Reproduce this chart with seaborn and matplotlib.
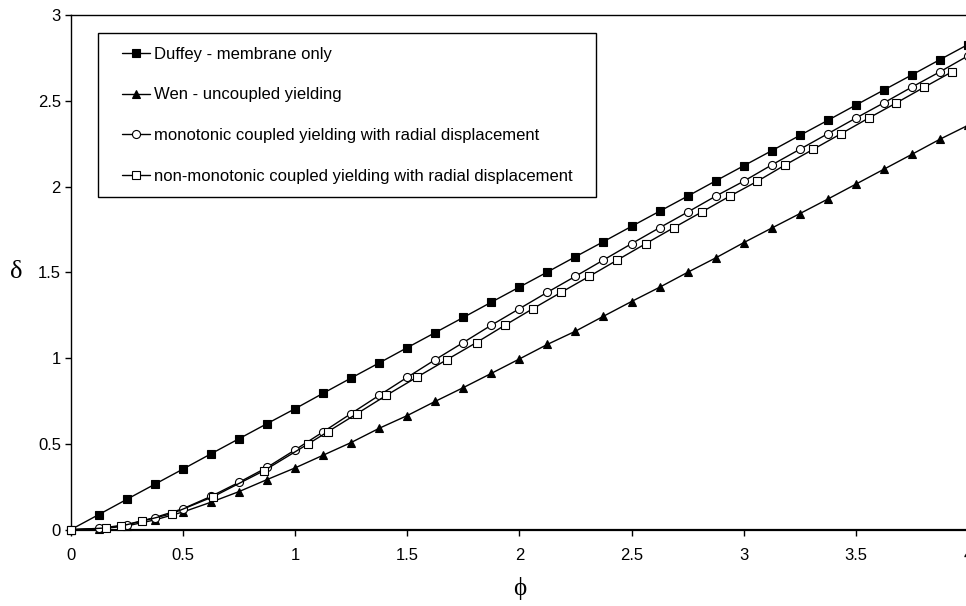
import matplotlib
matplotlib.use("Agg")
import matplotlib.pyplot as plt
import matplotlib.patches as mpatches
import seaborn as sns
import pandas as pd

# ---- data ----
phi_grid = [0, 0.125, 0.25, 0.375, 0.5, 0.625, 0.75, 0.875, 1.0, 1.125, 1.25, 1.375,
            1.5, 1.625, 1.75, 1.875, 2.0, 2.125, 2.25, 2.375, 2.5, 2.625, 2.75, 2.875,
            3.0, 3.125, 3.25, 3.375, 3.5, 3.625, 3.75, 3.875, 4.0]

duffey = [0, 0.088, 0.177, 0.265, 0.353, 0.442, 0.530, 0.618, 0.705, 0.795, 0.884, 0.972,
          1.061, 1.149, 1.237, 1.326, 1.414, 1.502, 1.591, 1.679, 1.768, 1.856, 1.944, 2.033,
          2.121, 2.209, 2.298, 2.386, 2.475, 2.563, 2.651, 2.740, 2.828]

wen = [0, 0.004, 0.022, 0.057, 0.103, 0.160, 0.222, 0.292, 0.360, 0.434, 0.508, 0.591,
       0.665, 0.748, 0.828, 0.911, 0.995, 1.080, 1.157, 1.244, 1.330, 1.413, 1.500, 1.584,
       1.673, 1.758, 1.842, 1.927, 2.014, 2.101, 2.188, 2.276, 2.357]

monotonic = [0, 0.007, 0.030, 0.071, 0.122, 0.194, 0.276, 0.363, 0.465, 0.570, 0.677, 0.783,
             0.888, 0.991, 1.091, 1.192, 1.288, 1.384, 1.477, 1.572, 1.667, 1.760, 1.851, 1.944,
             2.031, 2.126, 2.217, 2.308, 2.399, 2.488, 2.580, 2.669, 2.762]

nonmono_phi = [0, 0.158, 0.226, 0.318, 0.450, 0.636, 0.863, 1.056, 1.145, 1.277, 1.407, 1.542,
               1.677, 1.809, 1.936, 2.060, 2.187, 2.312, 2.437, 2.563, 2.688, 2.812, 2.938,
               3.061, 3.185, 3.310, 3.434, 3.557, 3.681, 3.806, 3.929]
nonmono = [0, 0.010, 0.022, 0.050, 0.093, 0.193, 0.345, 0.498, 0.570, 0.677, 0.783, 0.888,
           0.991, 1.091, 1.192, 1.288, 1.384, 1.477, 1.572, 1.667, 1.760, 1.851, 1.944,
           2.031, 2.126, 2.217, 2.308, 2.399, 2.488, 2.580, 2.669]

labels = ["Duffey - membrane only",
          "Wen - uncoupled yielding",
          "monotonic coupled yielding with radial displacement",
          "non-monotonic coupled yielding with radial displacement"]

x_ticks = [0, 0.5, 1, 1.5, 2, 2.5, 3, 3.5, 4]
y_ticks = [0, 0.5, 1, 1.5, 2, 2.5, 3]
x_ticklabels = ["0", "0.5", "1", "1.5", "2", "2.5", "3", "3.5", "4"]
y_ticklabels = ["0", "0.5", "1", "1.5", "2", "2.5", "3"]

# ---- style ----
sns.set_theme(style="white")
plt.rcParams["font.family"] = ["Liberation Sans", "DejaVu Sans"]

W, H = 966, 606
fig = plt.figure(figsize=(W / 100, H / 100), dpi=100)
ax_l, ax_r, ax_t, ax_b = 70.7, 968.0, 15.0, 529.7
ax = fig.add_axes([ax_l / W, (H - ax_b) / H, (ax_r - ax_l) / W, (ax_b - ax_t) / H])

series = [
    (phi_grid, duffey, labels[0], "s", "black", 5.2),
    (phi_grid, wen, labels[1], "^", "black", 5.4),
    (phi_grid, monotonic, labels[2], "o", "white", 5.8),
    (nonmono_phi, nonmono, labels[3], "s", "white", 5.6),
]
for xs, ys, lab, mk, fc, ms in series:
    df = pd.DataFrame({"phi": xs, "delta": ys})
    sns.lineplot(data=df, x="phi", y="delta", ax=ax, color="black", lw=1.0,
                 marker=mk, markersize=ms, markerfacecolor=fc,
                 markeredgecolor="black", markeredgewidth=0.8,
                 label=lab, sort=False, estimator=None, zorder=3, clip_on=False)

ax.set_xlim(0, 4)
ax.set_ylim(0, 3)
ax.set_xticks(x_ticks)
ax.set_xticklabels(x_ticklabels)
ax.set_yticks(y_ticks)
ax.set_yticklabels(y_ticklabels)
ax.tick_params(axis="both", which="both", direction="out", length=4, width=1,
               color="black", labelsize=12, labelcolor="black")
ax.tick_params(axis="x", pad=9, bottom=True, top=False)
ax.tick_params(axis="y", pad=3, left=True, right=False)

for side, sp in ax.spines.items():
    sp.set_visible(True)
    sp.set_color("black")
    sp.set_linewidth(1.0)
ax.spines["bottom"].set_linewidth(1.6)

ax.set_xlabel("ϕ", family=["Liberation Serif", "DejaVu Serif"], fontsize=18,
              color="black", labelpad=10)
ax.set_ylabel("δ", family=["Liberation Serif", "DejaVu Serif"], fontsize=19,
              color="black", rotation=0, va="center")
ax.yaxis.set_label_coords(-0.061, 0.5)

# legend (frameless) + its box
def ax_x(px):
    return (px - ax_l) / (ax_r - ax_l)

def ax_y(py):
    return (ax_b - py) / (ax_b - ax_t)

leg = ax.legend(loc="upper left", bbox_to_anchor=(ax_x(121.7), ax_y(46.5)),
                borderaxespad=0, frameon=False, fontsize=12,
                handlelength=1.68, handletextpad=0.24, labelspacing=1.55,
                borderpad=0)
for t in leg.get_texts():
    t.set_color("black")
box = mpatches.Rectangle((ax_x(98), ax_y(197)), ax_x(596) - ax_x(98), ax_y(33) - ax_y(197),
                         transform=ax.transAxes, fill=True, facecolor="white",
                         edgecolor="black", lw=1.0, zorder=4)
ax.add_patch(box)
leg.set_zorder(5)

fig.savefig("out.png", dpi=100, facecolor="white")
